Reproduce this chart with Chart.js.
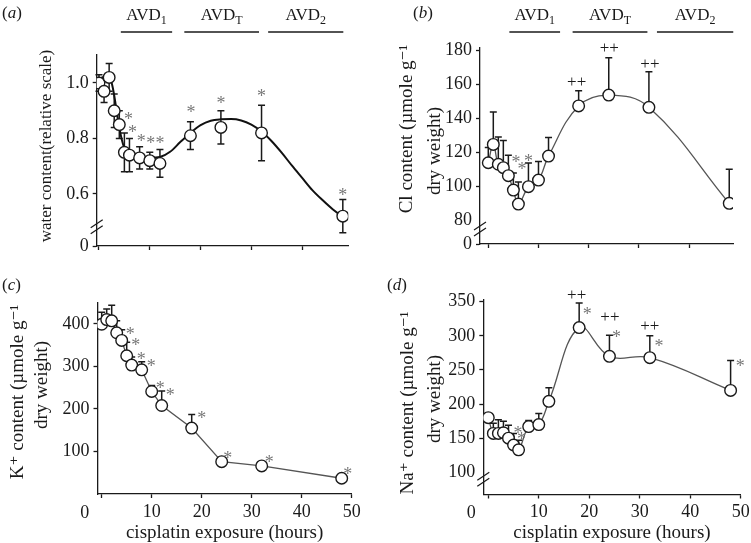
<!DOCTYPE html>
<html>
<head>
<meta charset="utf-8">
<script src="https://cdn.jsdelivr.net/npm/chart.js@4.4.1/dist/chart.umd.min.js"></script>
<style>
  body { margin: 0; background: #fff; }
  #wrap { position: relative; width: 751px; height: 543px; }
  .panel { position: absolute; }
</style>
</head>
<body>
<div id="wrap">
  <div class="panel" style="left:0;top:0;width:375px;height:270px"><canvas id="chartA"></canvas></div>
  <div class="panel" style="left:375px;top:0;width:376px;height:270px"><canvas id="chartB"></canvas></div>
  <div class="panel" style="left:0;top:270px;width:375px;height:273px"><canvas id="chartC"></canvas></div>
  <div class="panel" style="left:375px;top:270px;width:376px;height:273px"><canvas id="chartD"></canvas></div>
</div>
<script>
// sampling times (hours of cisplatin exposure)
const hours = [0, 1, 2, 3, 4, 5, 6, 8, 10, 12, 18, 24, 32, 48];
const xTicks = [0, 10, 20, 30, 40, 50];

// (a) water content, relative scale (+/- error)
const waterValues = [1.0, 0.97, 1.02, 0.9, 0.85, 0.75, 0.74, 0.73, 0.72, 0.71, 0.81, 0.84, 0.82, 0.52];
const waterErr = [0.03, 0.04, 0.05, 0.06, 0.05, 0.07, 0.06, 0.04, 0.03, 0.05, 0.05, 0.06, 0.1, 0.06];
// fitted curve
const waterFitHours = [0, 1, 2, 2.5, 3, 3.5, 4, 4.5, 5, 5.5, 6, 8, 10, 12, 14, 16, 18, 20, 22, 24, 26, 28, 30, 32, 34, 36, 38, 40, 42, 44, 46, 48];
const waterFitValues = [1.015, 1.022, 1.02, 1.0, 0.955, 0.895, 0.84, 0.795, 0.765, 0.748, 0.74, 0.733, 0.73, 0.733, 0.752, 0.787, 0.82, 0.848, 0.864, 0.869, 0.87, 0.865, 0.85, 0.825, 0.79, 0.748, 0.702, 0.658, 0.614, 0.578, 0.545, 0.518];
const waterTicks = [0.6, 0.8, 1.0];
const waterStars = [[5.8, 0.885], [6.6, 0.837], [8.3, 0.806], [10.2, 0.798], [12.0, 0.798], [18.1, 0.909], [24, 0.942], [32, 0.969], [48, 0.612]];

// (b) Cl content (upper error only)
const clValues = [113.7, 124.5, 112.8, 110.8, 106.1, 97.6, 89.4, 99.6, 103.5, 117.6, 147.1, 153.5, 146.3, 89.8];
const clErr = [9, 19, 16, 16, 12, 10, 13, 14, 11, 11, 9, 22, 21, 20];
const clTicks = [80, 100, 120, 140, 160, 180];
const clStars = [[5.5, 116.5], [6.7, 112.4], [8.0, 117.2]];
const clPlus = [[17.6, 161], [24.1, 181.4], [32.2, 171.6]];

// (c) K+ content
const kValues = [399, 410, 407, 379, 361, 325, 303, 292, 241, 208, 155, 76, 66, 37];
const kErr = [28, 25, 37, 28, 25, 32, 19, 19, 14, 34, 32, 0, 0, 0];
const kTicks = [100, 200, 300, 400];
const kStars = [[5.7, 386], [6.8, 359], [7.9, 327], [9.9, 310], [11.7, 259], [13.7, 243], [20, 187], [25.2, 95], [33.5, 84.5], [49.2, 57]];

// (d) Na+ content
const naValues = [180, 157, 157, 158, 150, 140, 133, 167, 170, 204, 312, 270, 268, 220];
const naErr = [0, 15, 20, 17, 19, 17, 14, 9, 16, 20, 36, 31, 32, 44];
const naTicks = [100, 150, 200, 250, 300, 350];
const naStars = [[5.9, 163], [6.6, 155], [19.6, 338], [25.4, 304], [33.8, 291], [49.9, 261]];
const naPlus = [[17.5, 360], [24.1, 328], [32, 314]];

// treatment phases drawn above (a) and (b), in hours
const phaseNames = ["1", "T", "2"];
const phasesA = [[4.3, 14.4], [16.8, 31.5], [33.3, 48.1]];
const phasesB = [[4.2, 14.3], [16.8, 31.7], [33.6, 48.8]];

const SERIF = "'Liberation Serif', 'DejaVu Serif', serif";
const INK = "#1a1a1a";
const STAR = "#777";

/**
 * Draws error bars, break marks, significance marks and all free text
 */
const overlay = {
  id: "overlay",
  beforeDatasetsDraw(chart, args, o) {
    const { ctx } = chart;
    const xs = chart.scales.x;
    const ys = chart.scales.y;
    ctx.save();
    ctx.strokeStyle = INK;
    ctx.lineWidth = 1.5;
    o.values.forEach((v, i) => {
      const e = o.err[i];
      if (!e) return;
      const px = xs.getPixelForValue(hours[i]);
      const top = ys.getPixelForValue(v + e);
      const bot = ys.getPixelForValue(o.twoSided ? v - e : v);
      ctx.beginPath();
      ctx.moveTo(px, bot);
      ctx.lineTo(px, top);
      ctx.moveTo(px - 3.5, top);
      ctx.lineTo(px + 3.5, top);
      if (o.twoSided) {
        ctx.moveTo(px - 3.5, bot);
        ctx.lineTo(px + 3.5, bot);
      }
      ctx.stroke();
    });
    ctx.restore();
  },
  afterDraw(chart, args, o) {
    const { ctx, chartArea } = chart;
    const xs = chart.scales.x;
    const ys = chart.scales.y;
    ctx.save();

    // axis break
    if (o.breakAt !== undefined) {
      const by = ys.getPixelForValue(o.breakAt);
      const bx = chartArea.left;
      ctx.strokeStyle = INK;
      ctx.lineWidth = 1.2;
      ctx.beginPath();
      [-3, 3].forEach((d) => {
        ctx.moveTo(bx - 6, by + d + 4);
        ctx.lineTo(bx + 6, by + d - 4);
      });
      ctx.stroke();
    }

    // stars and plus marks
    ctx.textAlign = "center";
    ctx.textBaseline = "alphabetic";
    ctx.fillStyle = STAR;
    ctx.font = "18px " + SERIF;
    (o.stars || []).forEach(([h, v]) => {
      ctx.fillText("*", xs.getPixelForValue(h), ys.getPixelForValue(v) + 10);
    });
    ctx.fillStyle = INK;
    ctx.font = "17px " + SERIF;
    (o.plus || []).forEach(([h, v]) => {
      ctx.fillText("++", xs.getPixelForValue(h), ys.getPixelForValue(v) + 5);
    });

    // phase bars
    if (o.phases) {
      o.phases.forEach(([a, b], i) => {
        const x1 = xs.getPixelForValue(a);
        const x2 = xs.getPixelForValue(b);
        ctx.strokeStyle = INK;
        ctx.lineWidth = 1.3;
        ctx.beginPath();
        ctx.moveTo(x1, o.phaseY);
        ctx.lineTo(x2, o.phaseY);
        ctx.stroke();
        ctx.font = "17px " + SERIF;
        const w1 = ctx.measureText("AVD").width;
        ctx.font = "12px " + SERIF;
        const w2 = ctx.measureText(phaseNames[i]).width;
        const start = (x1 + x2) / 2 - (w1 + w2) / 2;
        ctx.textAlign = "left";
        ctx.font = "17px " + SERIF;
        ctx.fillText("AVD", start, o.phaseY - 12);
        ctx.font = "12px " + SERIF;
        ctx.fillText(phaseNames[i], start + w1, o.phaseY - 8);
      });
    }

    // panel letter
    ctx.textAlign = "left";
    ctx.font = "17px " + SERIF;
    let lx = o.letterPos[0];
    ctx.fillText("(", lx, o.letterPos[1]);
    lx += ctx.measureText("(").width;
    ctx.font = "italic 17px " + SERIF;
    ctx.fillText(o.letter, lx, o.letterPos[1]);
    lx += ctx.measureText(o.letter).width;
    ctx.font = "17px " + SERIF;
    ctx.fillText(")", lx, o.letterPos[1]);

    // y axis title lines
    ctx.textAlign = "center";
    ctx.textBaseline = "middle";
    o.yTitle.forEach((t) => {
      ctx.save();
      ctx.translate(t.x, t.y);
      ctx.rotate(-Math.PI / 2);
      ctx.font = t.size + "px " + SERIF;
      ctx.fillText(t.text, 0, 0);
      ctx.restore();
    });

    // x axis title and the shifted zero label
    if (o.xTitleY) {
      ctx.font = "19px " + SERIF;
      ctx.fillText("cisplatin exposure (hours)", (chartArea.left + chartArea.right) / 2, o.xTitleY);
      ctx.font = "18px " + SERIF;
      ctx.fillText("0", xs.getPixelForValue(0) - 17, chartArea.bottom + 19);
    }
    ctx.restore();
  },
};

/**
 * Build one panel
 */
function makePanel(id, p) {
  const datasets = [
    {
      type: "scatter",
      data: hours.map((h, i) => ({ x: h, y: p.values[i] })),
      showLine: false,
      pointRadius: 5.8,
      pointBackgroundColor: "#fff",
      pointBorderColor: INK,
      pointBorderWidth: 1.4,
      order: 0,
    },
    {
      type: "line",
      data: p.lineX.map((h, i) => ({ x: h, y: p.lineY[i] })),
      borderColor: p.lineColor,
      borderWidth: p.lineWidth,
      pointRadius: 0,
      tension: p.tension,
      cubicInterpolationMode: p.monotone ? "monotone" : "default",
      fill: false,
      order: 1,
    },
  ];
  const tickFont = { family: SERIF, size: 18 };
  new Chart(document.getElementById(id), {
    type: "scatter",
    data: { datasets },
    plugins: [overlay],
    options: {
      responsive: true,
      maintainAspectRatio: false,
      animation: false,
      events: [],
      layout: { padding: p.padding },
      plugins: {
        legend: { display: false },
        tooltip: { enabled: false },
        overlay: p.overlay,
      },
      scales: {
        x: {
          type: "linear",
          min: p.xMin,
          max: p.xMax,
          afterBuildTicks: (s) => {
            s.ticks = xTicks.filter((v) => v <= p.xMax).map((v) => ({ value: v }));
          },
          afterFit: (s) => {
            s.height = p.xHeight;
            s.paddingLeft = 0;
            s.paddingRight = 0;
          },
          grid: { drawOnChartArea: false, tickLength: 4, tickColor: INK, tickWidth: 1.3 },
          border: { color: INK, width: 1.3 },
          ticks: {
            display: p.xLabels,
            font: tickFont,
            color: INK,
            padding: 3,
            maxRotation: 0,
            autoSkip: false,
            callback: (v) => (v === 0 ? "" : v),
          },
        },
        y: {
          type: "linear",
          min: p.yMin,
          max: p.yMax,
          afterBuildTicks: (s) => {
            const t = p.yTicks.map((v) => ({ value: v }));
            if (p.zeroAtBottom) t.unshift({ value: p.yMin });
            s.ticks = t;
          },
          afterFit: (s) => {
            s.width = 60;
            s.paddingTop = 0;
            s.paddingBottom = 0;
          },
          grid: {
            drawOnChartArea: false,
            tickLength: 4,
            tickWidth: 1.3,
            tickColor: (c) => (p.noTickBelow && c.tick && c.tick.value < p.noTickBelow && c.tick.value !== p.yMin ? "rgba(0,0,0,0)" : INK),
          },
          border: { color: INK, width: 1.3 },
          ticks: {
            font: tickFont,
            color: INK,
            padding: 4,
            autoSkip: false,
            callback: (v) => {
              if (p.zeroAtBottom && v === p.yMin) return "0";
              return p.decimals ? v.toFixed(p.decimals) : v;
            },
          },
        },
      },
    },
  });
}

makePanel("chartA", {
  values: waterValues,
  lineX: waterFitHours,
  lineY: waterFitValues,
  lineColor: "#111",
  lineWidth: 2,
  tension: 0.4,
  monotone: true,
  padding: { left: 36.7, right: 26.7, top: 55, bottom: 14 },
  xMin: -0.45, xMax: 49.08, xHeight: 10, xLabels: false,
  yMin: 0.4126, yMax: 1.1009, yTicks: waterTicks, decimals: 1, zeroAtBottom: true,
  overlay: {
    values: waterValues, err: waterErr, twoSided: true, breakAt: 0.482,
    stars: waterStars, phases: phasesA, phaseY: 32,
    letter: "a", letterPos: [2, 18],
    yTitle: [{ text: "water content(relative scale)", x: 47, y: 146, size: 17 }],
  },
});

makePanel("chartB", {
  values: clValues,
  lineX: hours,
  lineY: clValues,
  lineColor: "#555",
  lineWidth: 1.3,
  tension: 0.4,
  monotone: false,
  padding: { left: 45, right: 18, top: 48, bottom: 16 },
  xMin: -1.65, xMax: 48.75, xHeight: 10, xLabels: false,
  yMin: 65.9, yMax: 181.2, yTicks: clTicks, zeroAtBottom: true, noTickBelow: 100,
  overlay: {
    values: clValues, err: clErr, twoSided: false, breakAt: 74.7,
    stars: clStars, plus: clPlus, phases: phasesB, phaseY: 32,
    letter: "b", letterPos: [38, 18],
    yTitle: [
      { text: "Cl content (\u00b5mole g\u207b\u00b9", x: 32, y: 129, size: 19 },
      { text: "dry weight)", x: 60, y: 151, size: 19 },
    ],
  },
});

makePanel("chartC", {
  values: kValues,
  lineX: hours,
  lineY: kValues,
  lineColor: "#555",
  lineWidth: 1.3,
  tension: 0,
  monotone: false,
  padding: { left: 37.5, right: 23.3, top: 33, bottom: 9 },
  xMin: -0.84, xMax: 50, xHeight: 40, xLabels: true,
  yMin: 0, yMax: 449, yTicks: kTicks,
  overlay: {
    values: kValues, err: kErr, twoSided: false,
    stars: kStars,
    letter: "c", letterPos: [2, 20],
    xTitleY: 263,
    yTitle: [
      { text: "K\u207a content (\u00b5mole g\u207b\u00b9", x: 18, y: 122, size: 19 },
      { text: "dry weight)", x: 42, y: 115, size: 19 },
    ],
  },
});

makePanel("chartD", {
  values: naValues,
  lineX: hours,
  lineY: naValues,
  lineColor: "#555",
  lineWidth: 1.3,
  tension: 0.4,
  monotone: false,
  padding: { left: 48.3, right: 10.3, top: 29.5, bottom: 8.5 },
  xMin: -0.99, xMax: 50, xHeight: 40, xLabels: true,
  yMin: 67.5, yMax: 353.2, yTicks: naTicks, noTickBelow: 150,
  overlay: {
    values: naValues, err: naErr, twoSided: false, breakAt: 90,
    stars: naStars, plus: naPlus,
    letter: "d", letterPos: [12, 20],
    xTitleY: 263,
    yTitle: [
      { text: "Na\u207a content (\u00b5mole g\u207b\u00b9", x: 33, y: 133, size: 19 },
      { text: "dry weight)", x: 60, y: 129, size: 19 },
    ],
  },
});
</script>
</body>
</html>
